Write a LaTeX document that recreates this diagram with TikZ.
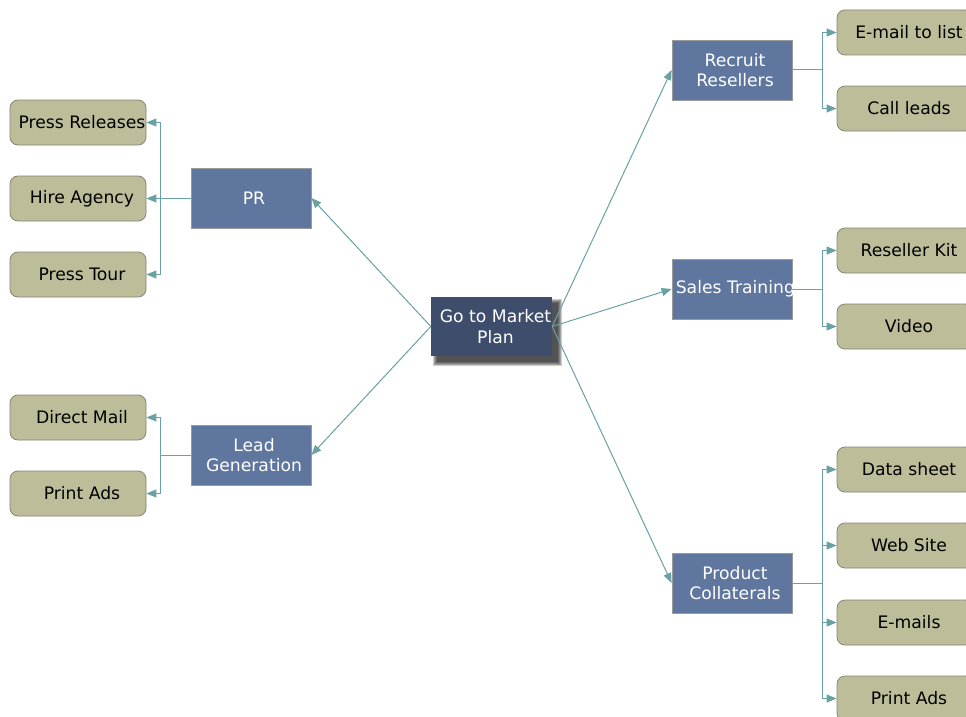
\documentclass[tikz,border=0pt]{standalone}
\usepackage{fontspec}
\setmainfont{DejaVu Sans}
\usetikzlibrary{arrows.meta,backgrounds}
\definecolor{leaffill}{HTML}{BDBD9A}
\definecolor{leafborder}{HTML}{858578}
\definecolor{subfill}{HTML}{5F769F}
\definecolor{subborder}{HTML}{9A9A9A}
\definecolor{mainfill}{HTML}{3E4D6B}
\definecolor{linec}{HTML}{6AA2A4}
\begin{document}
\begin{tikzpicture}[x=1pt,y=-1pt,
  txt/.style={font=\fontsize{17.2}{20.5}\selectfont},
  leaf/.style={txt,draw=leafborder,fill=leaffill,rounded corners=8pt,minimum width=136pt,minimum height=45pt,text=black,line width=0.8pt,inner sep=0pt},
  sub/.style={txt,draw=subborder,fill=subfill,minimum width=120pt,minimum height=60pt,text=white,align=center,line width=0.8pt,inner sep=0pt},
  mainbox/.style={txt,fill=mainfill,minimum width=121pt,minimum height=59pt,text=white,align=center,inner sep=0pt},
  shadowlayer/.style={fill=black,opacity=0.2},
  conn/.style={draw=linec,line width=1pt,-{Triangle[length=10pt,width=8pt]}},
  branch/.style={draw=linec,line width=1pt,-{Triangle[length=10pt,width=8pt]}}
]
\clip (0,0) rectangle (966,717);

\node[mainbox] (c) at (491.5,326.5) {\hspace*{8pt}Go to Market\\\hspace*{8pt}Plan};
\begin{scope}[on background layer]
  \fill[white] (0,0) rectangle (966,717);
  \foreach \r in {4,3,2,1,0}
    \fill[shadowlayer] ([shift={(6-\r,6-\r)}]c.north west) rectangle ([shift={(6+\r,6+\r)}]c.south east);
\end{scope}

\node[sub] (pr) at (251,198) {\hspace*{6pt}PR};
\node[sub] (lead) at (251,455) {\hspace*{6pt}Lead\\\hspace*{6pt}Generation};
\node[sub] (rec) at (732,70) {\hspace*{6pt}Recruit\\\hspace*{6pt}Resellers};
\node[sub] (sales) at (732,289) {};
\begin{scope}
  \clip (sales.south west) rectangle (sales.north east);
  \node[txt,text=white,anchor=west,inner sep=0pt] (salestxt) at ([xshift=4pt]sales.west) {Sales Training};
\end{scope}
\node[sub] (prod) at (732,583) {\hspace*{6pt}Product\\\hspace*{6pt}Collaterals};

\node[leaf] (l1) at (78,122.5) {\hspace*{8pt}Press Releases};
\node[leaf] (l2) at (78,198.5) {\hspace*{8pt}Hire Agency};
\node[leaf] (l3) at (78,274.5) {\hspace*{8pt}Press Tour};
\node[leaf] (l4) at (78,417.5) {\hspace*{8pt}Direct Mail};
\node[leaf] (l5) at (78,493.5) {\hspace*{8pt}Print Ads};

\node[leaf] (r1) at (905,32.5) {\hspace*{8pt}E-mail to list};
\node[leaf] (r2) at (905,108.5) {\hspace*{8pt}Call leads};
\node[leaf] (r3) at (905,250.5) {\hspace*{8pt}Reseller Kit};
\node[leaf] (r4) at (905,326.5) {\hspace*{8pt}Video};
\node[leaf] (r5) at (905,469.5) {\hspace*{8pt}Data sheet};
\node[leaf] (r6) at (905,545.5) {\hspace*{8pt}Web Site};
\node[leaf] (r7) at (905,622.5) {\hspace*{8pt}E-mails};
\node[leaf] (r8) at (905,698.5) {\hspace*{8pt}Print Ads};

\draw[conn] (c.west) -- (pr.east);
\draw[conn] (c.west) -- (lead.east);
\draw[conn] (c.east) -- (rec.west);
\draw[conn] (c.east) -- (sales.west);
\draw[conn] (c.east) -- (prod.west);

\foreach \t in {l1,l2,l3}
  \draw[branch] (pr.west) -- ([xshift=-30pt]pr.west) |- (\t.east);
\foreach \t in {l4,l5}
  \draw[branch] (lead.west) -- ([xshift=-30pt]lead.west) |- (\t.east);
\foreach \t in {r1,r2}
  \draw[branch] (rec.east) -- ([xshift=30pt]rec.east) |- (\t.west);
\foreach \t in {r3,r4}
  \draw[branch] (sales.east) -- ([xshift=30pt]sales.east) |- (\t.west);
\foreach \t in {r5,r6,r7,r8}
  \draw[branch] (prod.east) -- ([xshift=30pt]prod.east) |- (\t.west);
\end{tikzpicture}
\end{document}
